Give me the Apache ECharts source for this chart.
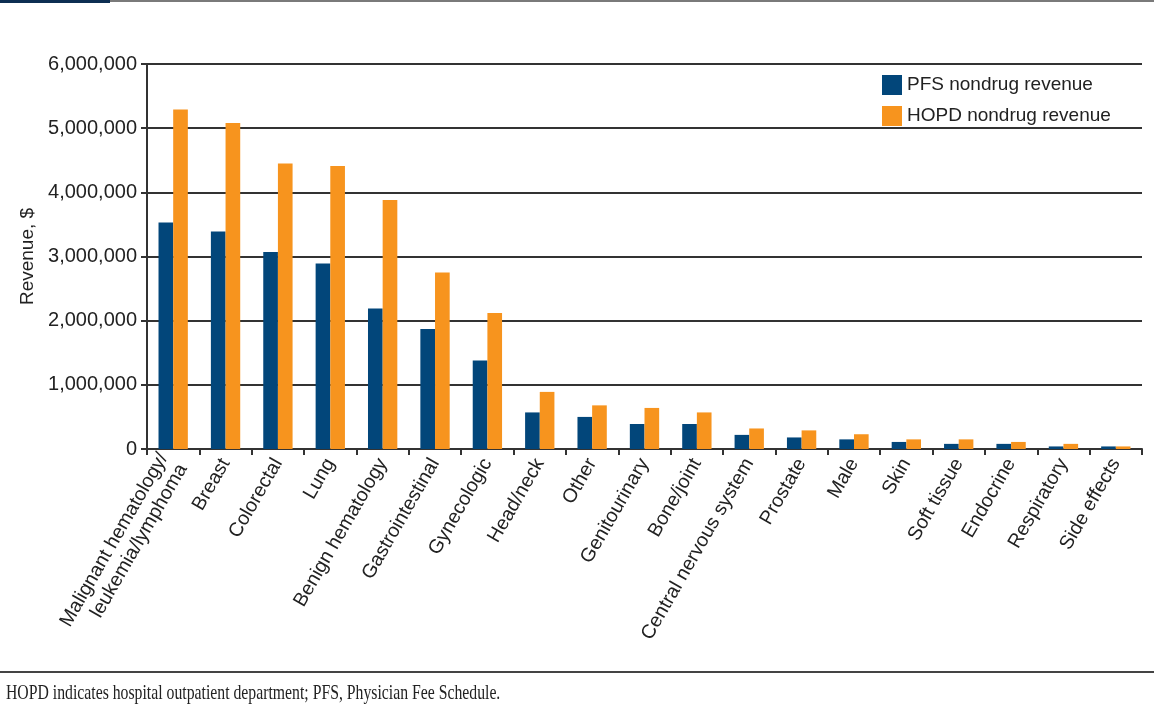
<!DOCTYPE html>
<html>
<head>
<meta charset="utf-8">
<script src="https://cdn.jsdelivr.net/npm/echarts@6/dist/echarts.min.js"></script>
<style>
    html, body { margin: 0; padding: 0; background: #fff; }
    #chart { width: 1154px; height: 715px; }
</style>
</head>
<body>
<div id="chart"></div>
<script>
var categories = ['Malignant hematology/\nleukemia/lymphoma', 'Breast', 'Colorectal', 'Lung', 'Benign hematology',
    'Gastrointestinal', 'Gynecologic', 'Head/neck', 'Other', 'Genitourinary', 'Bone/joint',
    'Central nervous system', 'Prostate', 'Male', 'Skin', 'Soft tissue', 'Endocrine', 'Respiratory', 'Side effects'];
var pfsRevenue = [3530000, 3390000, 3070000, 2890000, 2190000, 1870000, 1380000, 570000, 500000, 390000, 390000,
    220000, 180000, 150000, 110000, 80000, 80000, 40000, 40000];
var hopdRevenue = [5290000, 5080000, 4450000, 4410000, 3880000, 2750000, 2120000, 890000, 680000, 640000, 570000,
    320000, 290000, 230000, 150000, 150000, 110000, 80000, 40000];
var yTicks = [0, 1000000, 2000000, 3000000, 4000000, 5000000, 6000000];
var seriesNames = ['PFS nondrug revenue', 'HOPD nondrug revenue'];
var footnote = 'HOPD indicates hospital outpatient department; PFS, Physician Fee Schedule.';

var sansFont = '"Liberation Sans Narrow", "Liberation Sans", sans-serif';
var chart = echarts.init(document.getElementById('chart'));

var option = {
    backgroundColor: '#fff',
    animation: false,
    legend: {
        orient: 'vertical',
        left: 877,
        top: 70,
        itemWidth: 20,
        itemHeight: 20,
        itemGap: 11,
        icon: 'rect',
        data: seriesNames,
        textStyle: { fontFamily: sansFont, fontSize: 19, color: '#222' }
    },
    grid: { left: 147, right: 12, top: 64, bottom: 266 },
    xAxis: {
        type: 'category',
        data: categories,
        axisLine: { lineStyle: { color: '#333', width: 2 } },
        axisTick: { show: true, length: 6, lineStyle: { color: '#333', width: 2 } },
        axisLabel: {
            interval: 0,
            rotate: 60,
            margin: 11,
            fontFamily: sansFont,
            fontSize: 19.6,
            lineHeight: 22,
            color: '#222'
        }
    },
    yAxis: {
        type: 'value',
        min: yTicks[0],
        max: yTicks[yTicks.length - 1],
        interval: yTicks[1] - yTicks[0],
        name: 'Revenue, $',
        nameLocation: 'middle',
        nameRotate: 90,
        nameGap: 110,
        nameTextStyle: { fontFamily: sansFont, fontSize: 19, color: '#222' },
        axisLine: { show: true, lineStyle: { color: '#333', width: 2 } },
        axisTick: { show: true, length: 6, lineStyle: { color: '#333', width: 2 } },
        splitLine: { lineStyle: { color: '#333', width: 2 } },
        axisLabel: {
            margin: 10,
            fontFamily: sansFont,
            fontSize: 20,
            color: '#222',
            formatter: function (v) {
                return v.toString().replace(/\B(?=(\d{3})+(?!\d))/g, ',');
            }
        }
    },
    series: [{
        name: seriesNames[0],
        type: 'bar',
        data: pfsRevenue,
        barGap: '0%',
        barCategoryGap: '44%',
        itemStyle: { color: '#02467a' }
    }, {
        name: seriesNames[1],
        type: 'bar',
        data: hopdRevenue,
        itemStyle: { color: '#f7941e' }
    }],
    graphic: [
        { type: 'rect', left: 0, top: 0, shape: { width: 1154, height: 2 }, style: { fill: '#7a7a7a' } },
        { type: 'rect', left: 0, top: 0, shape: { width: 110, height: 3 }, style: { fill: '#0d2f52' } },
        { type: 'rect', left: 0, top: 671, shape: { width: 1154, height: 2 }, style: { fill: '#444' } },
        {
            type: 'text', x: 6, y: 683, scaleX: 0.75,
            style: { text: footnote, font: '21px "Liberation Serif", "DejaVu Serif", serif', fill: '#222' }
        }
    ]
};

chart.setOption(option);
</script>
</body>
</html>
